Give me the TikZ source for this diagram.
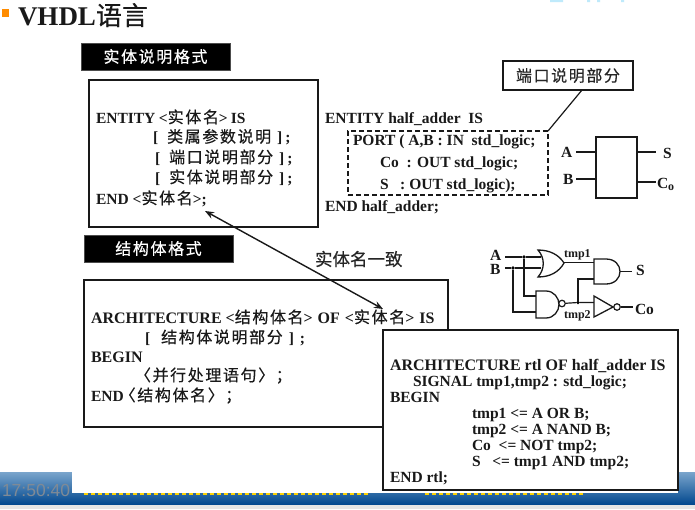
\documentclass[tikz,border=0pt]{standalone}
\usepackage{fontspec}
\setmainfont{Liberation Serif}
\setsansfont{Liberation Sans}
\newfontfamily\cjk[LetterSpace=10,FakeBold=0.4]{Noto Sans CJK SC}
\newfontfamily\cjkt[FakeBold=0.4]{Noto Sans CJK SC}
\usetikzlibrary{arrows.meta}
\definecolor{bartop}{HTML}{7AA5CC}
\definecolor{barmid}{HTML}{2E72AE}
\definecolor{barbot}{HTML}{03498F}
\definecolor{clockgray}{HTML}{7F8A96}
\newcommand{\cj}[1]{{\mdseries\cjk\fontsize{16}{16}\selectfont #1}}
\newcommand{\T}[4]{\node[txt,anchor=base west] (#1) at (#2,#3) {#4};}
\newcommand{\TS}[4]{\node[txt,anchor=base west,font=\bfseries\fontsize{16}{16}\selectfont] (#1) at (#2,#3) {#4};}
\tikzset{
 txt/.style={font=\bfseries\fontsize{15.5}{15.5}\selectfont,inner sep=0pt,outer sep=0pt,text=black!90},
 lbl/.style={font=\fontsize{16}{16}\selectfont\cjk,inner sep=0pt,outer sep=0pt,text=black!85},
 blackbox/.style={fill=black,draw=black!70,line width=.6pt,anchor=north west,inner sep=0pt,outer sep=0pt},
 framebox/.style={draw=black!90,fill=white,line width=1.2pt,anchor=north west,inner sep=0pt,outer sep=0pt},
 wire/.style={line width=1.2pt,draw=black!90},
 gate/.style={line width=1.3pt,draw=black!90,fill=white},
 dotb/.style={circle,fill=black,inner sep=0pt,minimum size=3.6pt},
 bub/.style={circle,draw=black!90,fill=white,line width=1.2pt,inner sep=0pt,minimum size=6.5pt},
 pt/.style={inner sep=0pt,outer sep=0pt,minimum size=0pt},
}
\begin{document}
\begin{tikzpicture}[x=1pt,y=-1pt]
\useasboundingbox (0,0) rectangle (695,509);
\fill[white] (0,0) rectangle (695,509);
% bottom bar
\fill[black!10] (0,504) rectangle (695,509);
\shade[top color=bartop,middle color=barmid,bottom color=barbot] (0,472) rectangle (695,504);
\node[pt,anchor=west,font=\sffamily\fontsize{17.5}{17.5}\selectfont,text=clockgray] (clock) at (2,490) {17:50:40};
\draw[yellow!70!orange,line width=1.5pt,dash pattern=on 4pt off 3pt] (84,494) -- (370,494) (425,494) -- (585,494);
\fill[white] (72,472) rectangle (678,493);
% top fragments
\fill[cyan!25] (550,0) rectangle (563,2) (587,0) rectangle (590,2) (597,0) rectangle (600,2) (621,0) rectangle (624,2);
% title
\fill[orange!90!yellow] (2,9) rectangle (9,17);
\node[txt,anchor=base west,font=\bfseries\fontsize{27}{27}\selectfont] (title) at (18,25) {VHDL{\mdseries\cjkt\fontsize{26}{26}\selectfont 语言}};
% entity format
\node[blackbox,minimum width=149pt,minimum height=27pt] (h1) at (81,43) {};
\node[lbl,text=white] (h1t) at (h1.center) {实体说明格式};
\node[framebox,minimum width=229pt,minimum height=147pt] (b1) at (89,80) {};
\T{e1}{96}{123}{ENTITY\hspace{3.5pt}<\cj{实体名}>\hspace{3pt}IS}
\T{e2}{153}{142.5}{[\hspace{9pt}\cj{类属参数说明}\hspace{6pt}]\hspace{3pt};}
\T{e3}{155}{163}{[\hspace{9pt}\cj{端口说明部分}\hspace{6pt}]\hspace{3pt};}
\T{e4}{155}{183}{[\hspace{9pt}\cj{实体说明部分}\hspace{6pt}]\hspace{3pt};}
\T{e5}{96}{204}{END\hspace{4pt}<\cj{实体名}>;}
% entity example
\T{x1}{325}{123}{ENTITY half\_adder\ \ IS}
\T{x2}{353}{145}{PORT ( A,B : IN\ \ std\_logic;}
\T{x3}{380}{167}{Co\ \ : OUT std\_logic;}
\T{x4}{380}{189}{S\ \ \ : OUT std\_logic);}
\T{x5}{325}{211}{END half\_adder;}
\node[draw=black!90,line width=1.1pt,dash pattern=on 5pt off 3pt,anchor=north west,minimum width=200pt,minimum height=64pt,inner sep=0pt,outer sep=0pt] (dash) at (348,131) {};
\node[framebox,minimum width=130pt,minimum height=29pt] (call) at (503,61) {};
\node[lbl] (callt) at (call.center) {端口说明部分};
\coordinate (callfoot) at (582,90);
\draw[wire] (callfoot) -- (dash.north east);
% block
\node[framebox,minimum width=41pt,minimum height=61pt] (blk) at (596,137) {};
\coordinate (ia) at (576,152);\coordinate (ib) at (576,179);
\coordinate (ja) at (596,152);\coordinate (jb) at (596,179);
\coordinate (oa) at (637,152);\coordinate (ob) at (637,182);
\coordinate (pa) at (656,152);\coordinate (pb) at (656,182);
\draw[wire] (ia)--(ja) (ib)--(jb) (oa)--(pa) (ob)--(pb);
\T{la}{561}{157}{A}
\T{lb}{563}{184}{B}
\T{ls}{663}{158}{S}
\T{lc}{657}{188}{C\raisebox{-2pt}{\fontsize{12}{12}\selectfont o}}
% architecture format
\node[blackbox,minimum width=149pt,minimum height=27pt] (h2) at (84,235) {};
\node[lbl,text=white] (h2t) at (h2.center) {结构体格式};
\node[framebox,minimum width=364pt,minimum height=147pt] (b2) at (84,280) {};
\TS{a1}{91}{323}{ARCHITECTURE\hspace{4pt}<\cj{结构体名}>\hspace{5pt}OF\hspace{5pt}<\cj{实体名}>\hspace{5pt}IS}
\T{a2}{145}{343}{[\hspace{11pt}\cj{结构体说明部分}\hspace{6pt}]\hspace{6pt};}
\TS{a3}{91}{362}{BEGIN}
\T{a4}{135}{381}{\cj{〈并行处理语句〉；}}
\T{a5}{91}{401}{END\hspace{-4pt}\cj{〈结构体名〉；}}
% consistent label
\node[lbl,anchor=west,font=\fontsize{17.5}{17.5}\selectfont] (same) at (315,259) {{\cjkt 实体名一致}};
\coordinate (arrA) at (205,211);
\coordinate (arrB) at (383,309);
\draw[line width=1.4pt,black!90,{Stealth[length=9pt,width=7pt]}-{Stealth[length=9pt,width=7pt]}] (arrA) -- (arrB);
% gates
\T{ga}{490}{260}{A}
\T{gb}{490}{274}{B}
\coordinate (a0) at (505,257);\coordinate (b0) at (505,268);
\node[dotb] (da) at (524,257) {};
\node[dotb] (db) at (513,268) {};
\coordinate (orA) at (541,257);\coordinate (orB) at (541,268);
\draw[wire] (a0)--(da)--(orA);
\draw[wire] (b0)--(db)--(orB);
\coordinate (n1) at (536,296);\coordinate (n2) at (536,312);
\draw[wire] (da)|-(n1);
\draw[wire] (db)|-(n2);
\draw[gate] (538,250) .. controls (545,258) and (545,269) .. (538,277) .. controls (550,277) and (559,272) .. (564,263) .. controls (559,255) and (550,250) .. (538,250) -- cycle;
\coordinate (orO) at (564,262.5);
\coordinate (and1) at (594,262.5);
\draw[wire] (orO)--(and1);
\coordinate (and2) at (594,279);
\coordinate (j2) at (578,279);
\node[dotb] (dj) at (578,302.5) {};
\draw[wire] (and2)--(j2)--(dj);
\draw[gate] (594,259) -- (606,259) .. controls (615,259) and (620,265) .. (620,271.5) .. controls (620,278) and (615,284) .. (606,284) -- (594,284) -- cycle;
\coordinate (andO) at (620,271.5);
\coordinate (sO) at (632,271.5);
\draw[wire] (andO)--(sO);
\draw[gate] (536,291) -- (546,291) .. controls (554,291) and (559,298) .. (559,304.5) .. controls (559,311) and (554,318) .. (546,318) -- (536,318) -- cycle;
\node[bub] (nb) at (562,303.5) {};
\coordinate (notI) at (594,302.5);
\draw[wire] (nb)--(dj)--(notI);
\draw[gate] (594,296) -- (613,307) -- (594,317) -- cycle;
\node[bub] (nb2) at (617,307) {};
\coordinate (coO) at (633,307);
\draw[wire] (nb2)--(coO);
\T{gs}{636}{275}{S}
\T{gc}{635}{314}{Co}
\node[txt,anchor=base west,font=\bfseries\fontsize{12}{12}\selectfont] (t1) at (564,257) {tmp1};
\node[txt,anchor=base west,font=\bfseries\fontsize{12}{12}\selectfont] (t2) at (564,318) {tmp2};
% rtl box
\node[framebox,minimum width=295pt,minimum height=160pt] (b3) at (383,330) {};
\TS{r1}{390}{370}{ARCHITECTURE rtl OF half\_adder IS}
\T{r2}{413}{386}{SIGNAL tmp1,tmp2 : std\_logic;}
\T{r3}{390}{402}{BEGIN}
\T{r4}{472}{418}{tmp1 <= A OR B;}
\T{r5}{472}{434}{tmp2 <= A NAND B;}
\T{r6}{472}{450}{Co\ \ <= NOT tmp2;}
\T{r7}{472}{466}{S\ \ \ <= tmp1 AND tmp2;}
\T{r8}{390}{482}{END rtl;}
\end{tikzpicture}
\end{document}
